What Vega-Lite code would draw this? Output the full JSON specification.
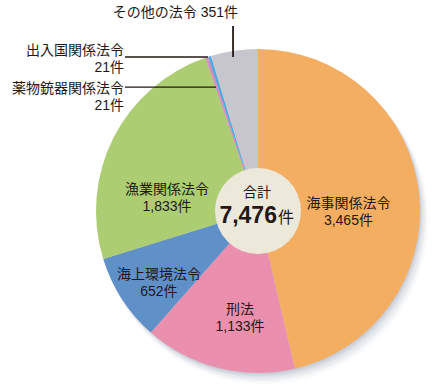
{
  "$schema": "https://vega.github.io/schema/vega-lite/v6.json",
  "width": 368,
  "height": 354,
  "autosize": "none",
  "padding": {"left": 74, "top": 34, "right": 0, "bottom": 0},
  "background": "white",
  "config": {
    "view": {"stroke": null},
    "text": {"font": "Liberation Sans, Noto Sans CJK JP", "fontSize": 14, "color": "#231815", "lineHeight": 17, "lineBreak": "\n"}
  },
  "datasets": {
    "cases": [
      {"cat": "海事関係法令", "n": 3465, "o": 1, "label": "海事関係法令\n3,465件"},
      {"cat": "刑法", "n": 1133, "o": 2, "label": "刑法\n1,133件"},
      {"cat": "海上環境法令", "n": 652, "o": 3, "label": "海上環境法令\n652件"},
      {"cat": "漁業関係法令", "n": 1833, "o": 4, "label": "漁業関係法令\n1,833件"},
      {"cat": "薬物銃器関係法令", "n": 21, "o": 5, "label": "薬物銃器関係法令\n21件"},
      {"cat": "出入国関係法令", "n": 21, "o": 6, "label": "出入国関係法令\n21件"},
      {"cat": "その他の法令", "n": 351, "o": 7, "label": "その他の法令 351件"}
    ],
    "one": [{"total": 7476}]
  },
  "layer": [
    {"data": {"name": "one"}, "mark": {"type": "arc", "theta": 0, "theta2": 6.2832, "outerRadius": 164, "xOffset": 6, "yOffset": 9, "fill": "#8a98b0", "opacity": 0.06}},
    {"data": {"name": "one"}, "mark": {"type": "arc", "theta": 0, "theta2": 6.2832, "outerRadius": 163, "xOffset": 5, "yOffset": 7.5, "fill": "#8a98b0", "opacity": 0.07}},
    {"data": {"name": "one"}, "mark": {"type": "arc", "theta": 0, "theta2": 6.2832, "outerRadius": 163, "xOffset": 4, "yOffset": 6, "fill": "#8a98b0", "opacity": 0.08}},
    {"data": {"name": "one"}, "mark": {"type": "arc", "theta": 0, "theta2": 6.2832, "outerRadius": 162, "xOffset": 3, "yOffset": 4.5, "fill": "#8a98b0", "opacity": 0.1}},
    {"data": {"name": "one"}, "mark": {"type": "arc", "theta": 0, "theta2": 6.2832, "outerRadius": 162, "xOffset": 2, "yOffset": 3, "fill": "#8a98b0", "opacity": 0.12}},
    {"data": {"name": "one"}, "mark": {"type": "arc", "theta": 0, "theta2": 6.2832, "outerRadius": 162, "xOffset": 1, "yOffset": 1.5, "fill": "#8a98b0", "opacity": 0.14}},
    {
      "data": {"name": "cases"},
      "mark": {"type": "arc", "outerRadius": 162},
      "encoding": {
        "theta": {"field": "n", "type": "quantitative", "stack": true},
        "order": {"field": "o"},
        "color": {"field": "cat", "type": "nominal", "legend": null,
          "scale": {"domain": ["海事関係法令", "刑法", "海上環境法令", "漁業関係法令", "薬物銃器関係法令", "出入国関係法令", "その他の法令"],
                    "range": ["#f4ae62", "#ea8fae", "#6090c8", "#adcd72", "#d98cbf", "#4aa8e0", "#c6c6cc"]}}
      }
    },
    {"data": {"name": "one"}, "mark": {"type": "arc", "theta": 0, "theta2": 6.2832, "outerRadius": 43, "fill": "#ede9da"}},
    {
      "data": {"name": "cases"},
      "mark": {"type": "text", "radius": 91, "dy": 3},
      "encoding": {
        "theta": {"field": "n", "type": "quantitative", "stack": true},
        "order": {"field": "o"},
        "detail": {"field": "cat"},
        "text": {"condition": {"test": "datum.cat === '海事関係法令'", "field": "label"}, "value": ""}
      }
    },
    {
      "data": {"name": "cases"},
      "mark": {"type": "text", "radius": 102, "dx": 7},
      "encoding": {
        "theta": {"field": "n", "type": "quantitative", "stack": true},
        "order": {"field": "o"},
        "detail": {"field": "cat"},
        "text": {"condition": {"test": "datum.cat === '刑法'", "field": "label"}, "value": ""}
      }
    },
    {
      "data": {"name": "cases"},
      "mark": {"type": "text", "radius": 118},
      "encoding": {
        "theta": {"field": "n", "type": "quantitative", "stack": true},
        "order": {"field": "o"},
        "detail": {"field": "cat"},
        "text": {"condition": {"test": "datum.cat === '海上環境法令'", "field": "label"}, "value": ""}
      }
    },
    {
      "data": {"name": "cases"},
      "mark": {"type": "text", "radius": 92, "dx": -9, "dy": 21},
      "encoding": {
        "theta": {"field": "n", "type": "quantitative", "stack": true},
        "order": {"field": "o"},
        "detail": {"field": "cat"},
        "text": {"condition": {"test": "datum.cat === '漁業関係法令'", "field": "label"}, "value": ""}
      }
    },
    {
      "data": {"name": "cases"},
      "transform": [{"filter": "datum.o >= 5"}],
      "layer": [
        {
          "mark": {"type": "rule", "color": "#231815"},
          "encoding": {
            "x": {"datum": -0.821, "type": "quantitative", "scale": {"domain": [-1.1358, 1.1358], "nice": false, "zero": false}, "axis": null},
            "x2": {"datum": -0.259},
            "y": {"datum": 0.765, "type": "quantitative", "scale": {"domain": [-1.0926, 1.0926], "nice": false, "zero": false}, "axis": null},
            "strokeWidth": {"value": 1.2},
            "opacity": {"condition": {"test": "datum.o === 5", "value": 1}, "value": 0}
          }
        },
        {
          "mark": {"type": "rule", "color": "#231815"},
          "encoding": {
            "x": {"datum": -0.821, "type": "quantitative", "scale": {"domain": [-1.1358, 1.1358], "nice": false, "zero": false}, "axis": null},
            "x2": {"datum": -0.309},
            "y": {"datum": 0.951, "type": "quantitative", "scale": {"domain": [-1.0926, 1.0926], "nice": false, "zero": false}, "axis": null},
            "strokeWidth": {"value": 1.6},
            "opacity": {"condition": {"test": "datum.o === 6", "value": 1}, "value": 0}
          }
        },
        {
          "mark": {"type": "rule", "color": "#231815"},
          "encoding": {
            "x": {"datum": -0.154, "type": "quantitative", "scale": {"domain": [-1.1358, 1.1358], "nice": false, "zero": false}, "axis": null},
            "y": {"datum": 1.142, "type": "quantitative", "scale": {"domain": [-1.0926, 1.0926], "nice": false, "zero": false}, "axis": null},
            "y2": {"datum": 0.951},
            "strokeWidth": {"value": 1.8},
            "opacity": {"condition": {"test": "datum.o === 7", "value": 1}, "value": 0}
          }
        },
        {
          "mark": {"type": "text", "align": "right", "baseline": "middle"},
          "encoding": {
            "x": {"datum": -0.827, "type": "quantitative", "scale": {"domain": [-1.1358, 1.1358], "nice": false, "zero": false}, "axis": null},
            "y": {"datum": 0.756, "type": "quantitative", "scale": {"domain": [-1.0926, 1.0926], "nice": false, "zero": false}, "axis": null},
            "text": {"condition": {"test": "datum.o === 5", "field": "label"}, "value": ""}
          }
        },
        {
          "mark": {"type": "text", "align": "right", "baseline": "middle"},
          "encoding": {
            "x": {"datum": -0.827, "type": "quantitative", "scale": {"domain": [-1.1358, 1.1358], "nice": false, "zero": false}, "axis": null},
            "y": {"datum": 0.985, "type": "quantitative", "scale": {"domain": [-1.0926, 1.0926], "nice": false, "zero": false}, "axis": null},
            "text": {"condition": {"test": "datum.o === 6", "field": "label"}, "value": ""}
          }
        },
        {
          "mark": {"type": "text", "align": "right", "baseline": "middle"},
          "encoding": {
            "x": {"datum": -0.123, "type": "quantitative", "scale": {"domain": [-1.1358, 1.1358], "nice": false, "zero": false}, "axis": null},
            "y": {"datum": 1.222, "type": "quantitative", "scale": {"domain": [-1.0926, 1.0926], "nice": false, "zero": false}, "axis": null},
            "text": {"condition": {"test": "datum.o === 7", "field": "label"}, "value": ""}
          }
        }
      ]
    },
    {
      "data": {"name": "one"},
      "layer": [
        {
          "mark": {"type": "text", "align": "center", "baseline": "middle", "fontSize": 14},
          "encoding": {
            "x": {"datum": -0.006, "type": "quantitative", "scale": {"domain": [-1.1358, 1.1358], "nice": false, "zero": false}, "axis": null},
            "y": {"datum": 0.111, "type": "quantitative", "scale": {"domain": [-1.0926, 1.0926], "nice": false, "zero": false}, "axis": null},
            "text": {"value": "合計"}
          }
        },
        {
          "mark": {"type": "text", "align": "right", "baseline": "alphabetic", "fontSize": 23, "fontWeight": "bold", "letterSpacing": -0.5},
          "encoding": {
            "x": {"datum": 0.117, "type": "quantitative", "scale": {"domain": [-1.1358, 1.1358], "nice": false, "zero": false}, "axis": null},
            "y": {"datum": -0.074, "type": "quantitative", "scale": {"domain": [-1.0926, 1.0926], "nice": false, "zero": false}, "axis": null},
            "text": {"field": "total", "type": "quantitative", "format": ","}
          }
        },
        {
          "mark": {"type": "text", "align": "left", "baseline": "alphabetic", "fontSize": 16},
          "encoding": {
            "x": {"datum": 0.123, "type": "quantitative", "scale": {"domain": [-1.1358, 1.1358], "nice": false, "zero": false}, "axis": null},
            "y": {"datum": -0.074, "type": "quantitative", "scale": {"domain": [-1.0926, 1.0926], "nice": false, "zero": false}, "axis": null},
            "text": {"value": "件"}
          }
        }
      ]
    }
  ]
}
